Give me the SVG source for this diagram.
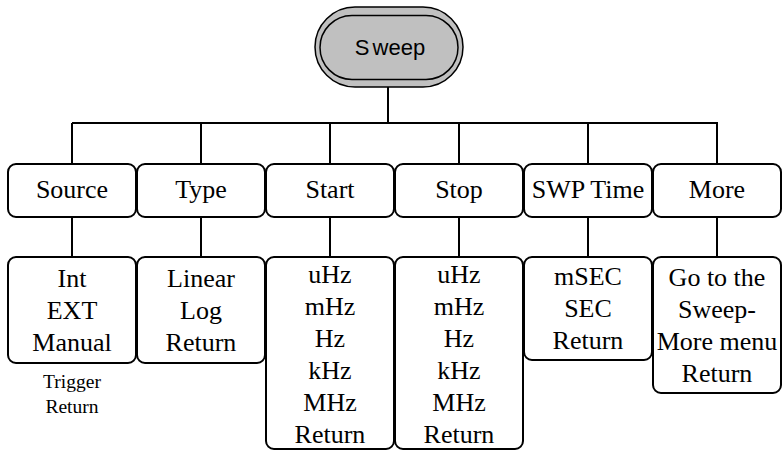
<svg xmlns="http://www.w3.org/2000/svg" width="782" height="452" viewBox="0 0 782 452">
<style>
.box{fill:#fff;stroke:#000;stroke-width:2}
.pill{fill:#c0c0c0;stroke:#000;stroke-width:1.5}
.conn{fill:none;stroke:#000;stroke-width:2}
.t{font-family:'Liberation Serif','Times New Roman',serif;font-size:26px;text-anchor:middle;fill:#000}
.sans{font-family:'Liberation Sans',Arial,sans-serif;font-size:22px;text-anchor:middle;fill:#000}
.small{font-size:19.5px}
</style>
<rect width="782" height="452" fill="#fff"/>
<g id="connectors">
<path class="conn" d="M388 87V123M72 123H718M72 123V164M201 123V164M330 123V164M459 123V164M588 123V164M717 123V164M72 217V257M201 217V257M330 217V257M459 217V257M588 217V257M717 217V257"/>
</g>
<g id="sweep">
<rect class="pill" x="315" y="7" width="148" height="80" rx="40"/>
<rect class="pill" x="320" y="15.5" width="138" height="64" rx="32"/>
<text class="sans" x="390" y="55">S<tspan dx="3">weep</tspan></text>
</g>
<g class="t">
<g id="source"><rect class="box" x="8" y="164" width="128" height="53" rx="8"/><text x="72" y="198">Source</text></g>
<g id="type"><rect class="box" x="137" y="164" width="128" height="53" rx="8"/><text x="201" y="198">Type</text></g>
<g id="start"><rect class="box" x="266" y="164" width="128" height="53" rx="8"/><text x="330" y="198">Start</text></g>
<g id="stop"><rect class="box" x="395" y="164" width="128" height="53" rx="8"/><text x="459" y="198">Stop</text></g>
<g id="swptime"><rect class="box" x="524" y="164" width="128" height="53" rx="8"/><text x="588" y="198">SWP Time</text></g>
<g id="more"><rect class="box" x="653" y="164" width="128" height="53" rx="8"/><text x="717" y="198">More</text></g>
<g id="source-menu"><rect class="box" x="8" y="257" width="128" height="106" rx="8"/>
<text x="72" y="287">Int</text><text x="72" y="319">EXT</text><text x="72" y="351">Manual</text>
<text class="small" x="72" y="388">Trigger</text><text class="small" x="72" y="413">Return</text></g>
<g id="type-menu"><rect class="box" x="137" y="257" width="128" height="106" rx="8"/>
<text x="201" y="287">Linear</text><text x="201" y="319">Log</text><text x="201" y="351">Return</text></g>
<g id="start-menu"><rect class="box" x="266" y="257" width="128" height="192" rx="8"/>
<text x="330" y="283">uHz</text><text x="330" y="315">mHz</text><text x="330" y="347">Hz</text><text x="330" y="379">kHz</text><text x="330" y="411">MHz</text><text x="330" y="443">Return</text></g>
<g id="stop-menu"><rect class="box" x="395" y="257" width="128" height="192" rx="8"/>
<text x="459" y="283">uHz</text><text x="459" y="315">mHz</text><text x="459" y="347">Hz</text><text x="459" y="379">kHz</text><text x="459" y="411">MHz</text><text x="459" y="443">Return</text></g>
<g id="swptime-menu"><rect class="box" x="524" y="257" width="128" height="103" rx="8"/>
<text x="588" y="285">mSEC</text><text x="588" y="317">SEC</text><text x="588" y="349">Return</text></g>
<g id="more-menu"><rect class="box" x="653" y="257" width="128" height="136" rx="8"/>
<text x="717" y="286">Go to the</text><text x="717" y="318">Sweep-</text><text x="717" y="350">More menu</text><text x="717" y="382">Return</text></g>
</g>
</svg>
